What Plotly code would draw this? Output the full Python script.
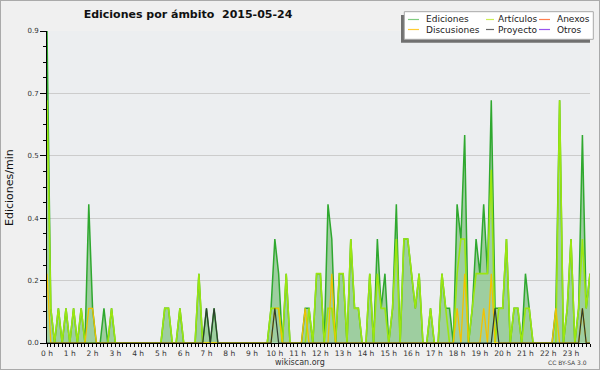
import plotly.graph_objects as go

# ---- data (10-minute bins, edits per minute) ----
hour_labels = [f"{h} h" for h in range(24)]
y_tick_values = [0, 0.18, 0.36, 0.54, 0.72, 0.9]
y_tick_labels = ["0.0", "0.2", "0.4", "0.5", "0.7", "0.9"]

ediciones = [
    0.9, 0.1, 0, 0.1, 0, 0.1, 0, 0.1, 0, 0.1, 0, 0.4,
    0.1, 0, 0, 0.1, 0, 0.1, 0, 0, 0, 0, 0, 0,
    0, 0, 0, 0, 0, 0, 0, 0.1, 0.1, 0, 0, 0.1,
    0, 0, 0, 0, 0.2, 0, 0.1, 0, 0.1, 0, 0, 0,
    0, 0, 0, 0, 0, 0, 0, 0, 0, 0, 0, 0.1,
    0.3, 0.2, 0, 0.2, 0, 0, 0, 0, 0.1, 0.1, 0, 0.2,
    0.2, 0, 0.4, 0.3, 0, 0.2, 0.2, 0, 0.3, 0.1, 0.1, 0,
    0, 0.2, 0, 0.3, 0.1, 0.2, 0, 0.1, 0.4, 0, 0.3, 0.3,
    0.2, 0.1, 0.2, 0, 0, 0.1, 0, 0, 0.2, 0.1, 0.1, 0,
    0.4, 0.3, 0.6, 0, 0.1, 0.3, 0.2, 0.4, 0.2, 0.7, 0.1, 0.1,
    0.1, 0.3, 0, 0.1, 0.1, 0, 0.2, 0.1, 0, 0, 0, 0,
    0, 0, 0.1, 0.7, 0, 0.1, 0.3, 0, 0.1, 0.6, 0.1, 0.2,
]
articulos = [
    0.7, 0.1, 0, 0.1, 0, 0.1, 0, 0.1, 0, 0.1, 0, 0,
    0, 0, 0, 0, 0, 0.1, 0, 0, 0, 0, 0, 0,
    0, 0, 0, 0, 0, 0, 0, 0.1, 0.1, 0, 0, 0.1,
    0, 0, 0, 0, 0.2, 0, 0, 0, 0, 0, 0, 0,
    0, 0, 0, 0, 0, 0, 0, 0, 0, 0, 0, 0.1,
    0.1, 0.1, 0, 0.2, 0, 0, 0, 0, 0, 0.1, 0, 0.2,
    0.2, 0, 0.1, 0.1, 0, 0.2, 0.2, 0, 0.3, 0.1, 0.1, 0,
    0, 0.2, 0, 0.2, 0.1, 0.1, 0, 0.1, 0.3, 0, 0.3, 0.3,
    0.2, 0.1, 0.2, 0, 0, 0.1, 0, 0, 0.2, 0.1, 0, 0,
    0.2, 0.3, 0.3, 0, 0.1, 0.2, 0.2, 0.2, 0.2, 0.5, 0, 0.1,
    0.1, 0.3, 0, 0.1, 0.1, 0, 0.1, 0.1, 0, 0, 0, 0,
    0, 0, 0, 0.7, 0, 0.1, 0.3, 0, 0.1, 0.3, 0.1, 0.2,
]
discusiones = [
    0.2, 0, 0, 0, 0, 0, 0, 0, 0, 0, 0, 0.1,
    0.1, 0, 0, 0, 0, 0, 0, 0, 0, 0, 0, 0,
    0, 0, 0, 0, 0, 0, 0, 0, 0, 0, 0, 0,
    0, 0, 0, 0, 0, 0, 0, 0, 0, 0, 0, 0,
    0, 0, 0, 0, 0, 0, 0, 0, 0, 0, 0, 0,
    0.1, 0.1, 0, 0, 0, 0, 0, 0, 0.1, 0, 0, 0,
    0, 0, 0, 0.2, 0, 0, 0, 0, 0, 0, 0, 0,
    0, 0, 0, 0, 0, 0, 0, 0, 0, 0, 0, 0,
    0, 0, 0, 0, 0, 0, 0, 0, 0, 0, 0, 0,
    0.1, 0, 0.2, 0, 0, 0, 0, 0.1, 0, 0.2, 0, 0,
    0, 0, 0, 0, 0, 0, 0, 0, 0, 0, 0, 0,
    0, 0, 0.1, 0, 0, 0, 0, 0, 0, 0.1, 0, 0,
]
proyecto = [
    0, 0, 0, 0, 0, 0, 0, 0, 0, 0, 0, 0,
    0, 0, 0, 0, 0, 0, 0, 0, 0, 0, 0, 0,
    0, 0, 0, 0, 0, 0, 0, 0, 0, 0, 0, 0,
    0, 0, 0, 0, 0, 0, 0.1, 0, 0.1, 0, 0, 0,
    0, 0, 0, 0, 0, 0, 0, 0, 0, 0, 0, 0,
    0.1, 0, 0, 0, 0, 0, 0, 0, 0, 0, 0, 0,
    0, 0, 0, 0, 0, 0, 0, 0, 0, 0, 0, 0,
    0, 0, 0, 0, 0, 0, 0, 0, 0, 0, 0, 0,
    0, 0, 0, 0, 0, 0, 0, 0, 0, 0, 0, 0,
    0, 0, 0, 0, 0, 0, 0, 0, 0, 0, 0.1, 0,
    0, 0, 0, 0, 0, 0, 0, 0, 0, 0, 0, 0,
    0, 0, 0, 0, 0, 0, 0, 0, 0, 0.1, 0, 0,
]
anexos = [0] * 144
otros = [0] * 144

legend_names = ["Ediciones", "Artículos", "Anexos", "Discusiones", "Proyecto", "Otros"]
legend_colors = ["#80cc80", "#ccee55", "#ff7f4f", "#ffcc33", "#666666", "#9955ee"]

bin_minutes = 10
x_hours = [i * bin_minutes / 60 for i in range(len(ediciones))]

# ---- figure geometry helpers (pixel -> paper) ----
W, H = 600, 370
ML, MR, MT, MB = 47, 10, 31, 27
PW, PH = W - ML - MR, H - MT - MB


def px(xp):
    return (xp - ML) / PW


def py(yp):
    return (H - MB - yp) / PH


FONT = "DejaVu Sans"

fig = go.Figure()
fig.add_trace(go.Scatter(
    x=x_hours, y=ediciones, mode="lines", name="Ediciones",
    fill="tozeroy", fillcolor="rgba(95,180,95,0.55)",
    line=dict(color="#2fa82f", width=1.5), showlegend=False))
fig.add_trace(go.Scatter(
    x=x_hours, y=articulos, mode="lines", name="Artículos",
    line=dict(color="#9be610", width=1.6), showlegend=False))
fig.add_trace(go.Scatter(
    x=x_hours, y=discusiones, mode="lines", name="Discusiones",
    line=dict(color="#f2c200", width=1.3), showlegend=False))
fig.add_trace(go.Scatter(
    x=x_hours, y=proyecto, mode="lines", name="Proyecto",
    line=dict(color="#2f3d2f", width=1.2), showlegend=False))

shapes = []
# outer border
shapes.append(dict(type="rect", xref="paper", yref="paper",
                   x0=px(0), x1=px(W), y0=py(H), y1=py(0),
                   line=dict(color="#aaaaaa", width=2), fillcolor="rgba(0,0,0,0)"))
# legend shadow and box
shapes.append(dict(type="rect", xref="paper", yref="paper",
                   x0=px(401), x1=px(590), y0=py(42.7), y1=py(15),
                   line=dict(width=0), fillcolor="#707070"))
shapes.append(dict(type="rect", xref="paper", yref="paper",
                   x0=px(404.3), x1=px(593.3), y0=py(39.3), y1=py(11.7),
                   line=dict(color="#a8a8a8", width=1), fillcolor="#ffffff"))

annotations = []
cols = [(408, 419, 424), (486, 494, 496), (539, 550, 555)]
rows = [19.5, 29.5]
for i, (nm, col) in enumerate(zip(legend_names, legend_colors)):
    r, c = divmod(i, 3)
    sx0, sx1, tx = cols[c]
    yy = rows[r]
    shapes.append(dict(type="line", xref="paper", yref="paper",
                       x0=px(sx0), x1=px(sx1), y0=py(yy), y1=py(yy),
                       line=dict(color=col, width=1.2)))
    annotations.append(dict(xref="paper", yref="paper", x=px(tx), y=py(yy),
                            text=nm, showarrow=False, xanchor="left", yanchor="middle",
                            font=dict(family=FONT, size=9, color="#222222")))

annotations.append(dict(xref="paper", yref="paper", x=px(9), y=py(188),
                        text="Ediciones/min", textangle=-90, showarrow=False,
                        xanchor="center", yanchor="middle",
                        font=dict(family=FONT, size=11, color="#111111")))
annotations.append(dict(xref="paper", yref="paper", x=px(300), y=py(362),
                        text="wikiscan.org", showarrow=False,
                        xanchor="center", yanchor="middle",
                        font=dict(family=FONT, size=8, color="#333333")))
annotations.append(dict(xref="paper", yref="paper", x=px(589), y=py(362.5),
                        text="CC BY-SA 3.0", showarrow=False,
                        xanchor="right", yanchor="middle",
                        font=dict(family=FONT, size=6, color="#444444")))

fig.update_layout(
    width=W, height=H, autosize=False,
    margin=dict(l=ML, r=MR, t=MT, b=MB, pad=0),
    paper_bgcolor="#f0f0f0", plot_bgcolor="#eceef0",
    title=dict(text="<b>Ediciones por ámbito  2015-05-24</b>",
               x=188 / W, xanchor="center", y=1 - 14 / H, yanchor="middle",
               font=dict(family=FONT, size=11, color="#111111")),
    shapes=shapes, annotations=annotations, showlegend=False,
    hovermode=False,
    xaxis=dict(range=[0, x_hours[-1]], tickvals=list(range(24)), ticktext=hour_labels,
               ticks="outside", ticklen=3, tickcolor="#000000", tickwidth=1,
               showline=True, linecolor="#000000", linewidth=1,
               showgrid=False, zeroline=False,
               tickfont=dict(family=FONT, size=7.5, color="#333333"),
               minor=dict(dtick=1 / 6, tick0=0, ticks="outside", ticklen=3,
                          tickcolor="#000000", showgrid=False)),
    yaxis=dict(range=[0, 0.9], tickvals=y_tick_values, ticktext=y_tick_labels,
               ticks="outside", ticklen=6, tickcolor="#000000", tickwidth=1,
               showline=True, linecolor="#000000", linewidth=1,
               showgrid=True, gridcolor="#cccccc", gridwidth=1, zeroline=False,
               tickfont=dict(family=FONT, size=7, color="#333333"),
               minor=dict(dtick=0.045, tick0=0, ticks="outside", ticklen=3,
                          tickcolor="#000000", showgrid=False)),
)

fig.write_html(
    "out.html",
    config={"displayModeBar": False, "staticPlot": True},
    post_script="document.body.style.margin='0';document.body.style.padding='0';"
                "document.documentElement.style.overflow='hidden';",
)
